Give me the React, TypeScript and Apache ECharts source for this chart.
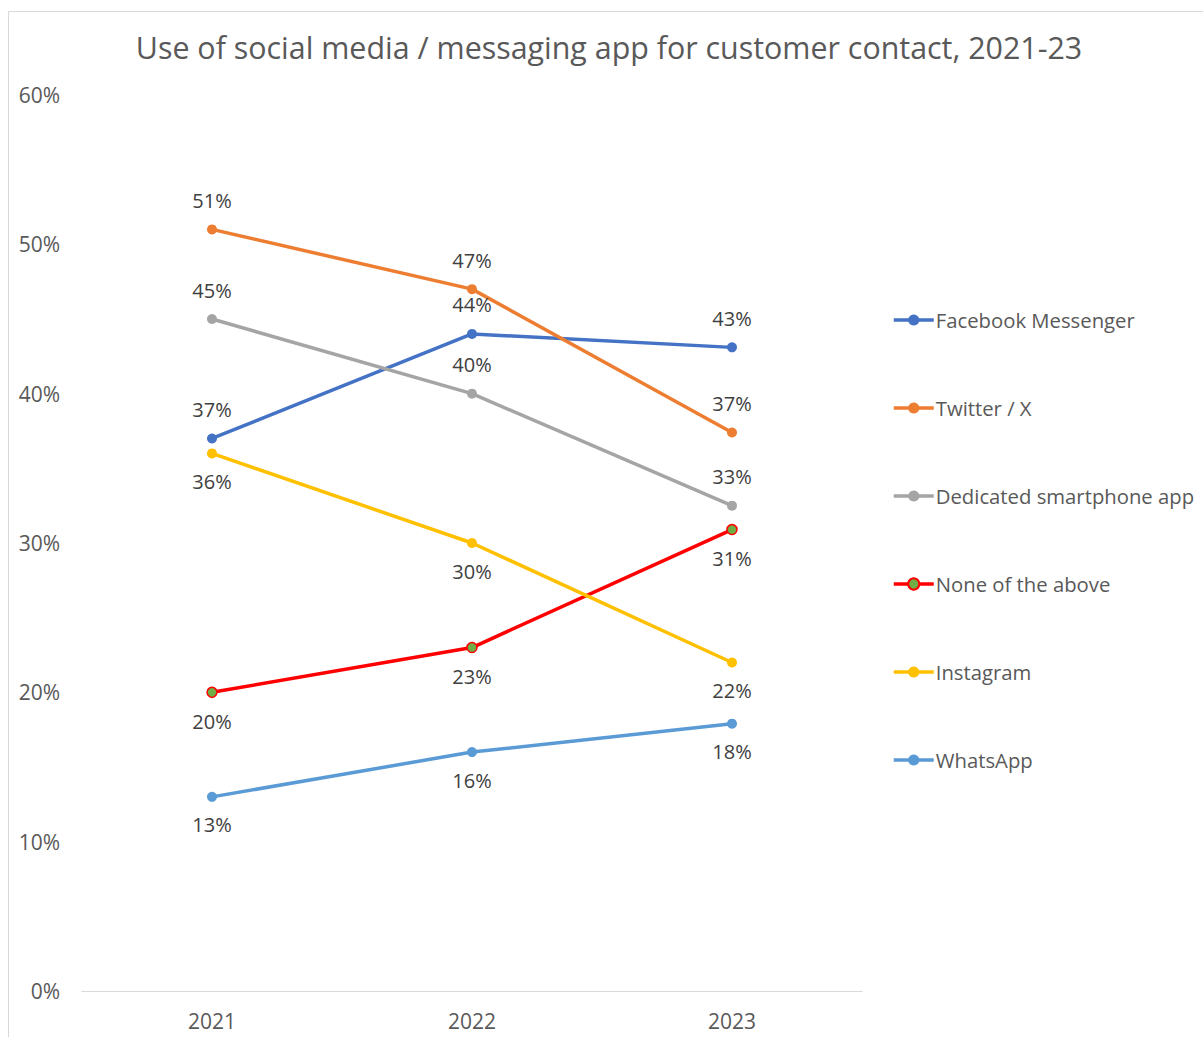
import React, { useEffect, useRef } from "react";
import * as echarts from "echarts";

const years = ["2021", "2022", "2023"];
const facebook = [37, 44, 43.1];
const twitter = [51, 47, 37.4];
const dedicated = [45, 40, 32.5];
const noneAbove = [20, 23, 30.9];
const instagram = [36, 30, 22];
const whatsapp = [13, 16, 17.9];

const FONT = "'Open Sans', sans-serif";

export default function App() {
  const ref = useRef<HTMLDivElement>(null);
  useEffect(() => {
    if (!ref.current) return;
    const chart = echarts.init(ref.current, null, { renderer: "svg" });
    const mk = (
      name: string,
      data: number[],
      color: string,
      pos: "top" | "bottom",
      symbolColor?: string
    ) => ({
      name,
      type: "line",
      data,
      symbol: "circle",
      symbolSize: 10,
      lineStyle: { color, width: 3.5 },
      itemStyle: symbolColor
        ? { color: symbolColor, borderColor: color, borderWidth: 1.5 }
        : { color },
      label: {
        show: true,
        position: pos,
        distance: pos === "top" ? 14 : 13,
        formatter: (p: any) => Math.round(p.value) + "%",
        color: "#404040",
        fontSize: 20,
        fontFamily: FONT,
      },
    });
    chart.setOption({
      animation: false,
      backgroundColor: "#fff",
      title: {
        text: "Use of social media / messaging app for customer contact, 2021-23",
        left: 604,
        textAlign: "center",
        top: 27,
        textStyle: {
          color: "#595959",
          fontSize: 30.4,
          fontWeight: "normal",
          fontFamily: FONT,
        },
      },
      graphic: [
        {
          type: "rect",
          shape: { x: 8.5, y: 11.5, width: 1300, height: 1100 },
          style: { fill: "none", stroke: "#d9d9d9", lineWidth: 1 },
          silent: true,
          z: -1,
        },
      ],
      legend: {
        orient: "vertical",
        left: 892,
        top: 310,
        padding: 0,
        itemWidth: 40,
        itemHeight: 14,
        itemGap: 68,
        lineStyle: { width: 3.5 },
        textStyle: { color: "#595959", fontSize: 20.3, fontFamily: FONT, padding: [0, 0, 0, -3] },
        data: [
          "Facebook Messenger",
          "Twitter / X",
          "Dedicated smartphone app",
          "None of the above",
          "Instagram",
          "WhatsApp",
        ],
      },
      grid: { left: 82, right: 341, top: 95, bottom: 46, containLabel: false },
      xAxis: {
        type: "category",
        data: years,
        boundaryGap: true,
        axisLine: { lineStyle: { color: "#d9d9d9", width: 1 } },
        axisTick: { show: false },
        axisLabel: { color: "#595959", fontSize: 21, fontFamily: FONT, margin: 19 },
      },
      yAxis: {
        type: "value",
        min: 0,
        max: 60,
        interval: 10,
        splitLine: { show: false },
        axisLine: { show: false },
        axisTick: { show: false },
        axisLabel: {
          color: "#595959",
          fontSize: 21,
          fontFamily: FONT,
          margin: 22,
          formatter: "{value}%",
        },
      },
      series: [
        mk("Facebook Messenger", facebook, "#4472C4", "top"),
        mk("Twitter / X", twitter, "#ED7D31", "top"),
        mk("Dedicated smartphone app", dedicated, "#A5A5A5", "top"),
        mk("None of the above", noneAbove, "#FF0000", "bottom", "#70AD47"),
        mk("Instagram", instagram, "#FFC000", "bottom"),
        mk("WhatsApp", whatsapp, "#5B9BD5", "bottom"),
      ],
    });
    return () => chart.dispose();
  }, []);
  return <div ref={ref} style={{ width: 1203, height: 1037, position: "absolute", left: 0, top: 0 }} />;
}
